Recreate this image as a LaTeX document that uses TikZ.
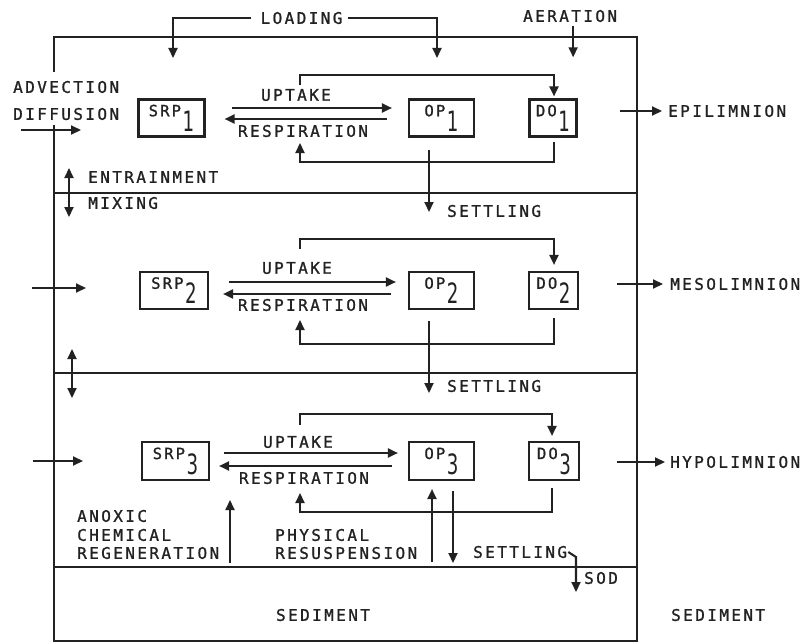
\documentclass[tikz,border=0pt]{standalone}
\usepackage{fontspec}
\usepackage{graphicx}
\setmainfont{DejaVu Sans Mono}
\newfontfamily\labfont[LetterSpace=15,FakeBold=1.2]{DejaVu Sans Mono}
\newfontfamily\boxfont[LetterSpace=14,FakeBold=1.2]{DejaVu Sans Mono}
\newfontfamily\digfont{DejaVu Sans}
\usetikzlibrary{arrows.meta}
\definecolor{ink}{HTML}{222222}
\newcommand\boxlab[2]{{\boxfont\fontsize{15.5}{15.5}\selectfont #1}\,\raisebox{-15pt}{\scalebox{0.65}[1]{\digfont\fontsize{28}{28}\selectfont #2}}}
\tikzset{
  ln/.style={line width=2.1pt, draw=ink},
  arr/.style={ln, -{Triangle[length=10pt,width=9pt]}},
  darr/.style={ln, {Triangle[length=10pt,width=9pt]}-{Triangle[length=10pt,width=9pt]}},
  pbox/.style={draw=ink, line width=2.1pt, rectangle, inner sep=0pt, minimum height=37pt, text=ink},
  lab/.style={text=ink, inner sep=0pt, font={\labfont\fontsize{16}{16}\selectfont}},
}
\begin{document}
\begin{tikzpicture}[x=1pt,y=-1pt]
\useasboundingbox (0,0) rectangle (809,642);
% frame
\draw[ln] (54,72) -- (54,37) -- (637,37) -- (637,641) -- (54,641) -- (54,125);
\draw[ln] (54,193) -- (637,193);
\draw[ln] (54,373) -- (637,373);
\draw[ln] (54,567) -- (637,567);
% boxes
\node[pbox, minimum width=66pt] (srp1) at (171.5,118) {\boxlab{SRP}{1}};
\node[pbox, minimum width=65pt] (op1) at (441.5,118) {\boxlab{OP}{1}};
\node[pbox, minimum width=47pt] (do1) at (553,118) {\boxlab{DO}{1}};
\node[pbox, minimum width=68pt] (srp2) at (174,290.5) {\boxlab{SRP}{2}};
\node[pbox, minimum width=65pt] (op2) at (441.5,290.5) {\boxlab{OP}{2}};
\node[pbox, minimum width=49pt] (do2) at (553.5,290.5) {\boxlab{DO}{2}};
\node[pbox, minimum width=67pt, minimum height=38pt] (srp3) at (175.5,461) {\boxlab{SRP}{3}};
\node[pbox, minimum width=65pt, minimum height=38pt] (op3) at (441.5,461) {\boxlab{OP}{3}};
\node[pbox, minimum width=50pt, minimum height=38pt] (do3) at (554,461) {\boxlab{DO}{3}};
% top labels
\node[lab] (load) at (301.5,18) {LOADING};
\node[lab, anchor=west] (aer) at (523,16) {AERATION};
\draw[arr] ([xshift=-9pt]load.west) -| (173,58);
\draw[arr] ([xshift=5pt]load.east) -| (437,58);
\draw[arr] ([xshift=3pt,yshift=-4pt]aer.south) -- ++(0,31);
% left labels
\node[lab, anchor=west] (adv) at (13,87) {ADVECTION};
\node[lab, anchor=west] (dif) at (13,114) {DIFFUSION};
\node[lab, anchor=west] (ent) at (88,177) {ENTRAINMENT};
\node[lab, anchor=west] (mix) at (88,203) {MIXING};
% inflows
\coordinate (i1a) at (21,130); \coordinate (i1b) at (81,130);
\coordinate (i2a) at (32,288); \coordinate (i2b) at (86,288);
\coordinate (i3a) at (33,461); \coordinate (i3b) at (83,461);
\draw[arr] (i1a) -- (i1b);
\draw[arr] (i2a) -- (i2b);
\draw[arr] (i3a) -- (i3b);
\coordinate (m1a) at (69,168); \coordinate (m1b) at (69,217);
\coordinate (m2a) at (72,349); \coordinate (m2b) at (72,398);
\draw[darr] (m1a) -- (m1b);
\draw[darr] (m2a) -- (m2b);
% outflows
\node[lab, anchor=west] (epi) at (668,111) {EPILIMNION};
\node[lab, anchor=west] (meso) at (670,284) {MESOLIMNION};
\node[lab, anchor=west] (hypo) at (670,462) {HYPOLIMNION};
\draw[arr] ([xshift=-48pt]epi.west) -- ([xshift=-6pt]epi.west);
\draw[arr] ([xshift=-53pt]meso.west) -- ([xshift=-7pt]meso.west);
\draw[arr] ([xshift=-53pt]hypo.west) -- ([xshift=-5pt]hypo.west);
% layer 1 processes
\node[lab] (up1) at (296,95) {UPTAKE};
\node[lab] (re1) at (303,131) {RESPIRATION};
\draw[arr] ([xshift=26pt,yshift=10pt]srp1.east) -- ([xshift=-16pt,yshift=10pt]op1.west);
\draw[arr] ([xshift=-21pt,yshift=-1pt]op1.west) -- ([xshift=19pt,yshift=-1pt]srp1.east);
\coordinate (t1) at (300,85);
\draw[arr] (t1) -- (300,75) -| ([xshift=1pt,yshift=2pt]do1.north);
\coordinate (b1) at (300,143);
\draw[arr] ([xshift=1pt,yshift=-4pt]do1.south) |- (300,162) -- (b1);
\coordinate (s1) at (429,212);
\draw[arr] ([xshift=-12.5pt,yshift=-12pt]op1.south) -- (s1);
\node[lab, anchor=west] (set1) at (447,211) {SETTLING};
% layer 2 processes
\node[lab] (up2) at (297,268) {UPTAKE};
\node[lab] (re2) at (303,305) {RESPIRATION};
\draw[arr] ([xshift=20pt,yshift=8.5pt]srp2.east) -- ([xshift=-12pt,yshift=8.5pt]op2.west);
\draw[arr] ([xshift=-17pt,yshift=-3.5pt]op2.west) -- ([xshift=14pt,yshift=-3.5pt]srp2.east);
\coordinate (t2) at (300,249);
\draw[arr] (t2) -- (300,239) -| ([xshift=0.5pt,yshift=6pt]do2.north);
\coordinate (b2) at (300,320);
\draw[arr] ([xshift=0.5pt,yshift=-8pt]do2.south) |- (300,344) -- (b2);
\coordinate (s2) at (429,393);
\draw[arr] ([xshift=-12.5pt,yshift=-11pt]op2.south) -- (s2);
\node[lab, anchor=west] (set2) at (447,386) {SETTLING};
% layer 3 processes
\node[lab] (up3) at (298,442) {UPTAKE};
\node[lab] (re3) at (304,478) {RESPIRATION};
\draw[arr] ([xshift=14pt,yshift=8pt]srp3.east) -- ([xshift=-10pt,yshift=8pt]op3.west);
\draw[arr] ([xshift=-16pt,yshift=-5pt]op3.west) -- ([xshift=9pt,yshift=-5pt]srp3.east);
\coordinate (t3) at (300,425);
\draw[arr] (t3) -- (300,414) -| ([xshift=-2pt,yshift=5pt]do3.north);
\coordinate (b3) at (300,493);
\draw[arr] ([xshift=-2pt,yshift=-7pt]do3.south) |- (300,512) -- (b3);
\coordinate (rs) at (432,562);
\draw[arr] (rs) -- ([xshift=-9.5pt,yshift=-8pt]op3.south);
\coordinate (s3) at (453,563);
\draw[arr] ([xshift=11.5pt,yshift=-10pt]op3.south) -- (s3);
\node[lab, anchor=west] (set3) at (473,552) {SETTLING};
\coordinate (an1) at (230,563); \coordinate (an2) at (230,500);
\draw[arr] (an1) -- (an2);
\node[lab, anchor=west] at (77,516) {ANOXIC};
\node[lab, anchor=west] at (77,535) {CHEMICAL};
\node[lab, anchor=west] at (77,553) {REGENERATION};
\node[lab, anchor=west] at (275,535) {PHYSICAL};
\node[lab, anchor=west] at (275,553) {RESUSPENSION};
% SOD
\node[lab, anchor=west] (sod) at (584,578) {SOD};
\coordinate (sodt) at (576,592);
\draw[arr] ([xshift=1pt]set3.east) -- (576,557) -- (sodt);
% sediment
\node[lab] at (323,615) {SEDIMENT};
\node[lab, anchor=west] at (671,615) {SEDIMENT};
\end{tikzpicture}
\end{document}
